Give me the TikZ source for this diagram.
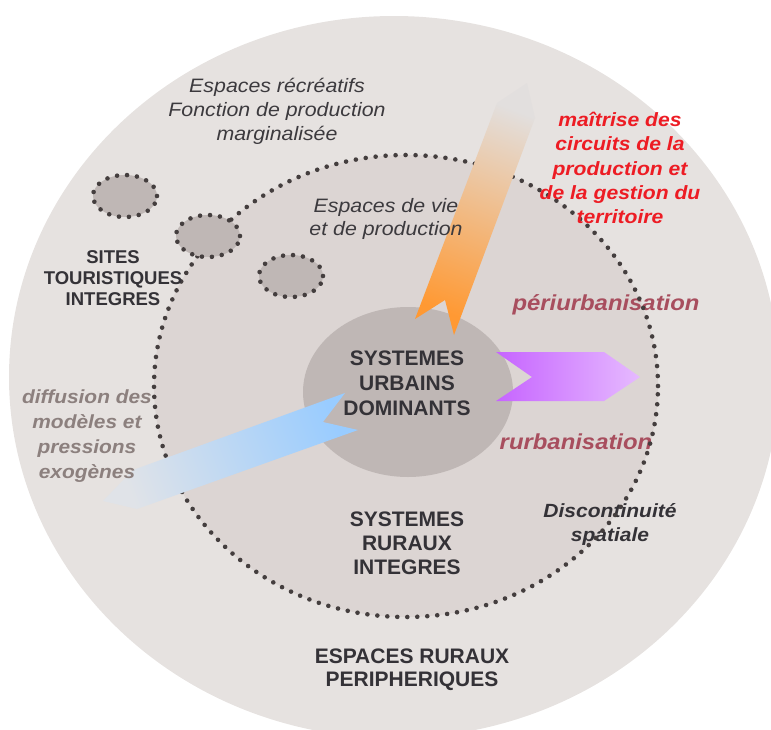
\documentclass[tikz,border=0pt]{standalone}
\usepackage{fontspec}
\setmainfont{Liberation Sans}
\newfontfamily\wide{Liberation Sans}[FakeStretch=1.1]
\definecolor{outerc}{RGB}{230,226,224}
\definecolor{innerc}{RGB}{220,213,211}
\definecolor{centc}{RGB}{191,183,181}
\definecolor{dotc}{RGB}{68,62,62}
\definecolor{darkt}{RGB}{52,50,55}
\definecolor{itt}{RGB}{60,58,62}
\definecolor{redt}{RGB}{237,28,36}
\definecolor{roset}{RGB}{168,78,94}
\definecolor{greyt}{RGB}{140,128,126}
\definecolor{orangea}{RGB}{255,153,51}
\definecolor{fadeo}{RGB}{226,223,222}
\definecolor{purplea}{RGB}{198,100,255}
\definecolor{lpurple}{RGB}{230,186,255}
\definecolor{bluea}{RGB}{153,204,255}
\definecolor{fadeb}{RGB}{224,227,232}
\tikzset{
  dotline/.style={draw=dotc, line width=4.6pt, line cap=round, dash pattern=on 0pt off 10pt},
  site/.style={fill=centc, dotline},
  bt/.style={text=darkt, align=center, inner sep=0pt},
  itx/.style={align=center, inner sep=0pt},
}
\begin{document}
\begin{tikzpicture}[x=1pt,y=1pt]
\useasboundingbox (0,0) rectangle (771,-729);
\clip (0,0) rectangle (771,-729);
% zones
\fill[outerc] (394,-377) ellipse [x radius=385, y radius=361];
\fill[innerc] (406,-386) ellipse [x radius=252, y radius=231];
\fill[centc] (408,-392) ellipse [x radius=105, y radius=85];
% texts beneath the dotted line
\node[itx, text=roset, font=\wide\fontsize{21.7}{25}\selectfont\bfseries\itshape] (periu) at (606,-305) {périurbanisation};
\node[itx, text=roset, font=\wide\fontsize{21.7}{25}\selectfont\bfseries\itshape] (rurb) at (576,-442) {rurbanisation};
\node[itx, text=darkt, font=\wide\fontsize{19.1}{24}\selectfont\bfseries\itshape] (disc) at (610,-524) {Discontinuité\\spatiale};
% dotted boundary of integrated rural systems
\draw[dotline] (406,-386) ellipse [x radius=252, y radius=231];
% tourist sites
\path[site] (125,-196) ellipse [x radius=32, y radius=21];
\path[site] (208,-236) ellipse [x radius=32, y radius=21];
\path[site] (291,-276) ellipse [x radius=32, y radius=21];
% arrows
\shade[top color=fadeo, bottom color=orangea, shading angle=-21]
  (415,-319) -- (445,-300) -- (454,-335) -- (535,-118) -- (527,-83) -- (497,-103) -- cycle;
\shade[top color=lpurple, bottom color=purplea, shading angle=-90]
  (496,-352) -- (532,-377) -- (496,-401) -- (604,-401) -- (640,-377) -- (604,-352) -- cycle;
\shade[top color=fadeb, bottom color=bluea, shading angle=110.6]
  (345,-393) -- (323,-422) -- (358,-430) -- (137,-509) -- (103,-501) -- (133,-470) -- cycle;
% other texts
\node[bt, font=\fontsize{18.5}{21}\selectfont\bfseries] (sites) at (113,-278) {SITES\\TOURISTIQUES\\INTEGRES};
\node[bt, font=\fontsize{21}{25}\selectfont\bfseries] (urb) at (407,-383) {SYSTEMES\\URBAINS\\DOMINANTS};
\node[bt, font=\fontsize{21}{24}\selectfont\bfseries] (rur) at (407,-543) {SYSTEMES\\RURAUX\\INTEGRES};
\node[bt, font=\fontsize{21}{23}\selectfont\bfseries] (peri) at (412,-670) {ESPACES RURAUX\\PERIPHERIQUES};
\node[itx, text=itt, font=\wide\fontsize{19.4}{24}\selectfont\itshape] (recr) at (277,-111) {Espaces récréatifs\\Fonction de production\\marginalisée};
\node[itx, text=itt, font=\wide\fontsize{19.4}{23}\selectfont\itshape] (vie) at (386,-219) {Espaces de vie\\et de production};
\node[itx, text=redt, font=\wide\fontsize{19.2}{24.3}\selectfont\bfseries\itshape] (maitr) at (620,-168) {maîtrise des\\circuits de la\\production et\\de la gestion du\\territoire};
\node[itx, text=greyt, font=\wide\fontsize{19}{25}\selectfont\bfseries\itshape] (diff) at (87,-436) {diffusion des\\modèles et\\pressions\\exogènes};
\end{tikzpicture}
\end{document}
